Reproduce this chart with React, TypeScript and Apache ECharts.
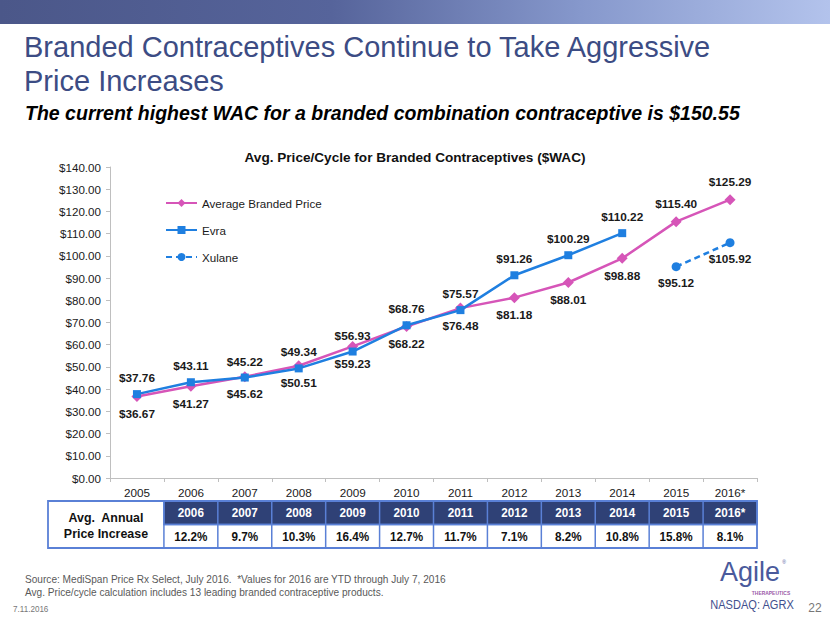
import React, { useEffect, useRef } from "react";
import * as echarts from "echarts";

const years = ["2005", "2006", "2007", "2008", "2009", "2010", "2011", "2012", "2013", "2014", "2015", "2016*"];
const avgPrice = [36.67, 41.27, 45.62, 50.51, 59.23, 68.22, 76.48, 81.18, 88.01, 98.88, 115.4, 125.29];
const avgLabelPos = ["bottom", "bottom", "bottom", "bottom", "bottom", "bottom", "bottom", "bottom", "bottom", "bottom", "top", "top"];
const evra: (number | null)[] = [37.76, 43.11, 45.22, 49.34, 56.93, 68.76, 75.57, 91.26, 100.29, 110.22, null, null];
const xulane: (number | null)[] = [null, null, null, null, null, null, null, null, null, null, 95.12, 105.92];
const tableYears = ["2006", "2007", "2008", "2009", "2010", "2011", "2012", "2013", "2014", "2015", "2016*"];
const increases = ["12.2%", "9.7%", "10.3%", "16.4%", "12.7%", "11.7%", "7.1%", "8.2%", "10.8%", "15.8%", "8.1%"];

const PINK = "#D655B8";
const BLUE = "#1F7FE0";
const NAVY = "#3C4C84";
const SANS = "'Liberation Sans', Arial, sans-serif";

const fmt = (v: number) => "$" + v.toFixed(2);

function txt(x: number, y: number, text: string, o: any = {}) {
  const align = o.align || "left";
  const va = o.va || "middle";
  return {
    type: "text",
    x,
    y,
    scaleX: o.sx || 1,
    silent: true,
    style: {
      text,
      fill: o.fill || "#000",
      fontSize: o.size || 12,
      fontFamily: o.family || SANS,
      fontWeight: o.weight || "normal",
      fontStyle: o.style || "normal",
      align,
      textAlign: align,
      verticalAlign: va,
      textVerticalAlign: va,
    },
  };
}

export default function App() {
  const ref = useRef<HTMLDivElement>(null);
  useEffect(() => {
    if (!ref.current) return;
    const chart = echarts.init(ref.current, null, { renderer: "svg" });
    const labelBase = { show: true, fontWeight: "bold", fontSize: 11.8, color: "#1a1a1a", fontFamily: SANS, distance: 6, formatter: (p: any) => fmt(p.value) };
    const option: any = {
      animation: false,
      backgroundColor: "#fff",
      grid: { left: 110, right: 73, top: 167, bottom: 145 },
      legend: {
        orient: "vertical",
        left: 160,
        top: 192,
        itemWidth: 31,
        itemHeight: 10,
        itemGap: 15,
        textStyle: { fontSize: 11.6, color: "#1a1a1a", fontFamily: SANS },
        data: ["Average Branded Price", "Evra", "Xulane"],
      },
      xAxis: {
        type: "category",
        data: years,
        boundaryGap: true,
        axisLine: { lineStyle: { color: "#bfbfbf" } },
        axisTick: { show: true, length: 4, lineStyle: { color: "#bfbfbf" } },
        axisLabel: { color: "#1a1a1a", fontSize: 11.7, fontFamily: SANS, margin: 8, interval: 0 },
      },
      yAxis: {
        type: "value",
        min: 0,
        max: 140,
        interval: 10,
        axisLine: { show: true, lineStyle: { color: "#bfbfbf" } },
        axisTick: { show: true, length: 4, lineStyle: { color: "#bfbfbf" } },
        splitLine: { show: false },
        axisLabel: { color: "#1a1a1a", fontSize: 11.6, fontFamily: SANS, margin: 9, formatter: (v: number) => fmt(v) },
      },
      series: [
        {
          name: "Average Branded Price",
          type: "line",
          data: avgPrice.map((v, i) => ({ value: v, label: { position: avgLabelPos[i] } })),
          symbol: "diamond",
          symbolSize: 11,
          lineStyle: { color: PINK, width: 2.5 },
          itemStyle: { color: PINK },
          label: labelBase,
          z: 3,
        },
        {
          name: "Evra",
          type: "line",
          data: evra,
          symbol: "rect",
          symbolSize: 8,
          lineStyle: { color: BLUE, width: 2.5 },
          itemStyle: { color: BLUE },
          label: { ...labelBase, position: "top" },
          z: 4,
        },
        {
          name: "Xulane",
          type: "line",
          data: xulane,
          symbol: "circle",
          symbolSize: 9,
          lineStyle: { color: BLUE, width: 2.5, type: [6, 4] },
          itemStyle: { color: BLUE },
          label: { ...labelBase, position: "bottom" },
          z: 4,
        },
      ],
    };
    chart.setOption(option);

    // Slide decorations and the table aligned with the category axis.
    const px = (c: string) => chart.convertToPixel({ xAxisIndex: 0 }, c) as number;
    const step = px(years[1]) - px(years[0]);
    const tableLeft = 48;
    const tableTop = 501;
    const rowH = 23.5;
    const labelRight = px(years[0]) + step / 2;
    const tableRight = px(years[years.length - 1]) + step / 2;
    const BORDER = "#5A80D6";
    const graphics: any[] = [];

    graphics.push({
      type: "rect",
      shape: { x: 0, y: 0, width: 830, height: 24 },
      silent: true,
      style: {
        fill: new echarts.graphic.LinearGradient(0, 0, 1, 0, [
          { offset: 0, color: "#4B5789" },
          { offset: 0.4, color: "#56649B" },
          { offset: 0.7, color: "#8698CC" },
          { offset: 1, color: "#B3C3EC" },
        ]),
      },
    });
    graphics.push(txt(24, 47, "Branded Contraceptives Continue to Take Aggressive", { size: 29, fill: NAVY }));
    graphics.push(txt(24, 81, "Price Increases", { size: 29, fill: NAVY }));
    graphics.push(txt(25, 113, "The current highest WAC for a branded combination contraceptive is $150.55", { size: 21, weight: "bold", style: "italic", fill: "#000", sx: 0.93 }));
    graphics.push(txt(415, 157, "Avg. Price/Cycle for Branded Contraceptives ($WAC)", { size: 13.6, weight: "bold", align: "center", fill: "#111" }));

    // table
    graphics.push({
      type: "rect",
      shape: { x: labelRight, y: tableTop, width: tableRight - labelRight, height: rowH },
      silent: true,
      style: { fill: "#2F4176", stroke: BORDER, lineWidth: 1.5 },
    });
    graphics.push({
      type: "rect",
      shape: { x: tableLeft, y: tableTop, width: tableRight - tableLeft, height: rowH * 2 },
      silent: true,
      style: { fill: "none", stroke: BORDER, lineWidth: 1.8 },
    });
    graphics.push({
      type: "line",
      shape: { x1: labelRight, y1: tableTop + rowH, x2: tableRight, y2: tableTop + rowH },
      silent: true,
      style: { stroke: BORDER, lineWidth: 1.5 },
    });
    tableYears.forEach((yr, i) => {
      const cx = px(yr);
      graphics.push({
        type: "line",
        shape: { x1: cx - step / 2, y1: tableTop, x2: cx - step / 2, y2: tableTop + rowH * 2 },
        silent: true,
        style: { stroke: BORDER, lineWidth: 1.5 },
      });
      graphics.push(txt(cx, tableTop + rowH / 2 + 0.5, yr, { size: 13, weight: "bold", align: "center", fill: "#fff", sx: 0.9 }));
      graphics.push(txt(cx, tableTop + rowH * 1.5 + 1, increases[i], { size: 13, weight: "bold", align: "center", fill: "#111", sx: 0.9 }));
    });
    const lcx = (tableLeft + labelRight) / 2;
    graphics.push(txt(lcx, tableTop + rowH * 0.68, "Avg.  Annual", { size: 13.5, weight: "bold", align: "center", fill: "#111", sx: 0.92 }));
    graphics.push(txt(lcx, tableTop + rowH * 1.36, "Price Increase", { size: 13.5, weight: "bold", align: "center", fill: "#111", sx: 0.92 }));

    // footer
    graphics.push(txt(25, 579, "Source: MediSpan Price Rx Select, July 2016.  *Values for 2016 are YTD through July 7, 2016", { size: 11, fill: "#595959", sx: 0.92 }));
    graphics.push(txt(25, 592, "Avg. Price/cycle calculation includes 13 leading branded contraceptive products.", { size: 11, fill: "#595959", sx: 0.92 }));
    graphics.push(txt(13, 609, "7.11.2016", { size: 9, fill: "#777", sx: 0.9 }));
    graphics.push(txt(815, 608, "22", { size: 12, fill: "#777", align: "center" }));
    graphics.push(txt(750, 572, "Agile", { size: 27, fill: "#4A5A9C", align: "center" }));
    graphics.push(txt(784, 562, "®", { size: 5, fill: "#4A5A9C", align: "center" }));
    graphics.push(txt(771, 593, "THERAPEUTICS", { size: 5.5, fill: "#9A5AA8", align: "center", weight: "bold", sx: 0.9 }));
    graphics.push(txt(752, 605, "NASDAQ: AGRX", { size: 13.5, fill: "#3F4F8E", align: "center", sx: 0.82 }));

    chart.setOption({ graphic: { elements: graphics } });

    return () => chart.dispose();
  }, []);
  return <div ref={ref} style={{ position: "absolute", left: 0, top: 0, width: 830, height: 623 }} />;
}
